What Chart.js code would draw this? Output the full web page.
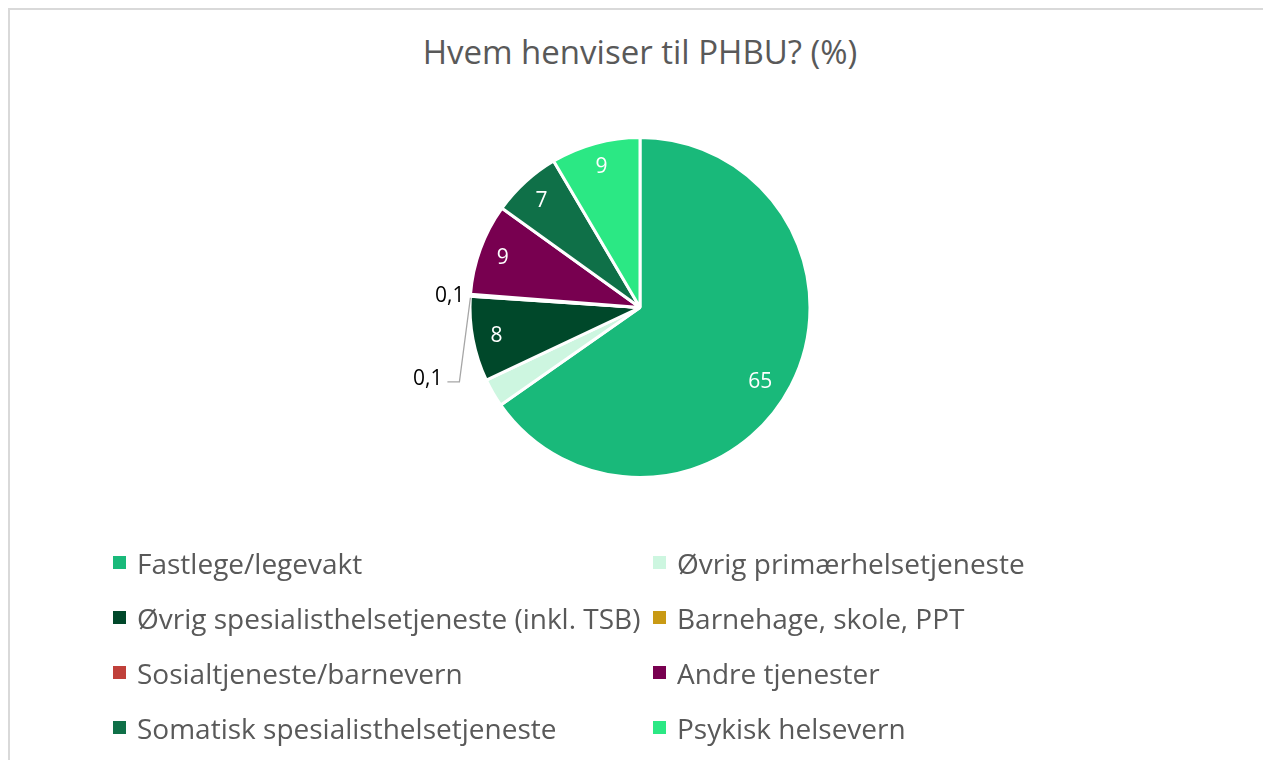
<!DOCTYPE html>
<html>
<head>
<meta charset="utf-8">
<script src="https://cdn.jsdelivr.net/npm/chart.js@4.4.1/dist/chart.umd.min.js"></script>
<style>
  html, body { margin: 0; padding: 0; background: #fff; }
  body { width: 1263px; height: 760px; position: relative; overflow: hidden; font-family: "Open Sans", Lato, sans-serif; }
  #frame { position: absolute; left: 8px; top: 8px; width: 1300px; height: 800px; border-left: 2px solid #d9d9d9; border-top: 2px solid #d9d9d9; box-sizing: border-box; }
  #title { position: absolute; left: 0; width: 1280px; top: 30px; text-align: center; font-size: 33px; color: #595959; line-height: 44px; }
  #wrap { position: absolute; left: 0; top: 0; width: 1263px; height: 760px; }
  #legend { position: absolute; left: 113px; top: 535px; display: grid; grid-template-columns: 540px 500px; grid-auto-rows: 55px; }
  .item { display: flex; align-items: center; font-size: 28px; color: #595959; white-space: nowrap; height: 55px; }
  .sw { width: 13px; height: 13px; margin-right: 11px; flex: none; }
</style>
</head>
<body>
<div id="frame"></div>
<div id="title">Hvem henviser til PHBU? (%)</div>
<div id="wrap"><canvas id="c" width="1263" height="760"></canvas></div>
<div id="legend"></div>
<script>
const categories = [
  "Fastlege/legevakt",
  "Øvrig primærhelsetjeneste",
  "Øvrig spesialisthelsetjeneste (inkl. TSB)",
  "Barnehage, skole, PPT",
  "Sosialtjeneste/barnevern",
  "Andre tjenester",
  "Somatisk spesialisthelsetjeneste",
  "Psykisk helsevern"
];
const values = [65.4, 2.7, 8.1, 0.1, 0.1, 8.7, 6.6, 8.5];
const colors = ["#19B97A", "#CDF6E0", "#00482A", "#C99A14", "#C0403A", "#780050", "#0F7048", "#2BE884"];
const showLabel = [true, false, true, true, true, true, true, true];

function fmt(v) {
  if (v < 1) return String(v).replace('.', ',');
  return String(Math.round(v));
}

const labelPlugin = {
  id: 'pieLabels',
  afterDatasetsDraw(chart) {
    const ctx = chart.ctx;
    const meta = chart.getDatasetMeta(0);
    ctx.save();
    ctx.font = '21px "Open Sans", Lato, sans-serif';
    ctx.textBaseline = 'middle';
    meta.data.forEach((arc, i) => {
      if (!showLabel[i]) return;
      const p = arc.getProps(['x', 'y', 'startAngle', 'endAngle', 'outerRadius'], true);
      const v = values[i];
      if (v >= 1) {
        let mid = (p.startAngle + p.endAngle) / 2;
        let r = p.outerRadius * 0.86;
        if (v > 50) { mid += 0.07; r = p.outerRadius * 0.83; }
        ctx.fillStyle = '#ffffff';
        ctx.textAlign = 'center';
        ctx.fillText(fmt(v), p.x + Math.cos(mid) * r, p.y + Math.sin(mid) * r + 1);
      } else {
        const mid = (p.startAngle + p.endAngle) / 2;
        const ex = p.x + Math.cos(mid) * p.outerRadius;
        const ey = p.y + Math.sin(mid) * p.outerRadius;
        ctx.fillStyle = '#000000';
        ctx.textAlign = 'right';
        if (i === 3) {
          ctx.strokeStyle = '#a6a6a6';
          ctx.lineWidth = 1.3;
          ctx.beginPath();
          ctx.moveTo(ex, ey + 2);
          ctx.lineTo(ex - 11, ey + 86);
          ctx.lineTo(ex - 23, ey + 86);
          ctx.stroke();
          ctx.fillText(fmt(v), ex - 28, ey + 83);
        } else {
          ctx.fillText(fmt(v), ex - 6, ey + 1);
        }
      }
    });
    ctx.restore();
  }
};

const chart = new Chart(document.getElementById('c'), {
  type: 'pie',
  data: {
    labels: categories,
    datasets: [{
      data: values,
      backgroundColor: colors,
      borderColor: '#ffffff',
      borderWidth: 3,
      hoverOffset: 0,
      offset: 0
    }]
  },
  options: {
    responsive: false,
    animation: false,
    events: [],
    layout: { padding: { top: 136, bottom: 281, left: 317, right: 300 } },
    plugins: {
      legend: { display: false },
      tooltip: { enabled: false },
      title: { display: false }
    }
  },
  plugins: [labelPlugin]
});

const leg = document.getElementById('legend');
categories.forEach((name, i) => {
  const d = document.createElement('div');
  d.className = 'item';
  const s = document.createElement('span');
  s.className = 'sw';
  s.style.background = colors[i];
  const t = document.createElement('span');
  t.textContent = name;
  d.appendChild(s); d.appendChild(t);
  leg.appendChild(d);
});
</script>
</body>
</html>
